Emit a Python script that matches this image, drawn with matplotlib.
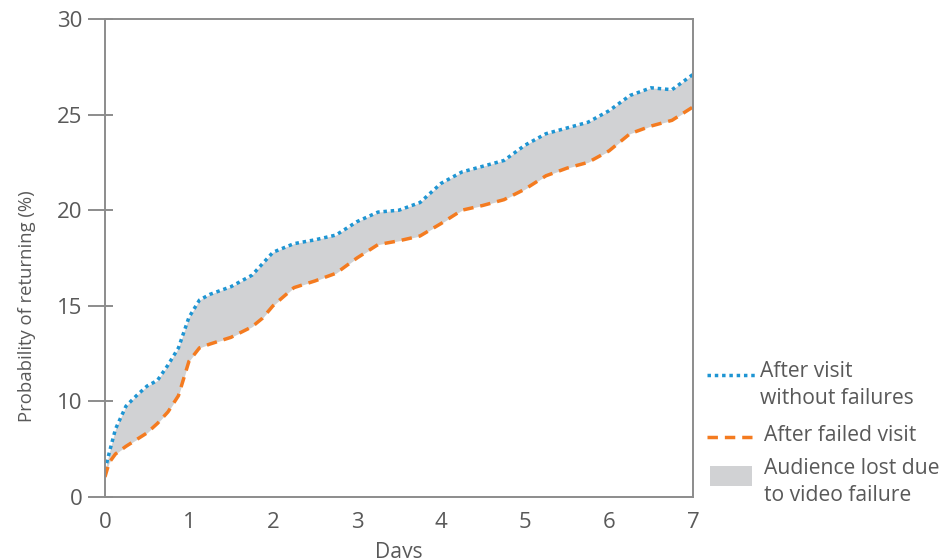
import numpy as np
import matplotlib.pyplot as plt
from matplotlib.lines import Line2D
from matplotlib.patches import Rectangle
from matplotlib.ticker import FixedLocator

# days since the visit (shared x for both curves)
days = [0, 0.05, 0.125, 0.25, 0.375, 0.5, 0.625, 0.75, 0.875, 1.0, 1.125, 1.25,
        1.5, 1.75, 1.875, 2.0, 2.25, 2.5, 2.75, 3.0, 3.25, 3.5, 3.75, 4.0,
        4.25, 4.5, 4.75, 5.0, 5.25, 5.5, 5.75, 6.0, 6.25, 6.5, 6.75, 7.0]

# probability of returning (%)
no_failure = [2.8, 4.6, 7.1, 9.5, 10.3, 10.8, 11.1, 11.9, 12.8, 14.4, 15.3, 15.6,
              16.0, 16.6, 17.2, 17.8, 18.25, 18.45, 18.7, 19.4, 19.9, 20.0, 20.4, 21.4,
              22.0, 22.3, 22.6, 23.4, 24.0, 24.3, 24.6, 25.2, 26.0, 26.4, 26.3, 27.1]
failed = [2.1, 3.6, 4.5, 5.3, 6.0, 6.7, 7.7, 8.9, 10.3, 12.1, 12.8, 13.0,
          13.35, 13.9, 14.35, 15.0, 15.95, 16.3, 16.7, 17.5, 18.2, 18.4, 18.65, 19.3,
          20.0, 20.25, 20.55, 21.1, 21.8, 22.2, 22.5, 23.1, 24.0, 24.4, 24.7, 25.4]

y_ticks = [0, 10, 15, 20, 25, 30]
x_ticks = [0, 1, 2, 3, 4, 5, 6, 7]
legend_labels = ['After visit\nwithout failures', 'After failed visit',
                 'Audience lost due\nto video failure']

BLUE = '#1e95d3'
ORANGE = '#f47b20'
FILL = '#d1d2d4'
TEXT = '#595959'
AXIS = '#8c8c8c'
FS = 15.2

plt.rcParams['font.family'] = ['Open Sans', 'DejaVu Sans']


# the y axis squeezes 0-10 into the same space as each 5-step above it
def fwd(y):
    y = np.asarray(y, float)
    return np.where(y <= 10, y / 10, 1 + (y - 10) / 5)


def inv(p):
    p = np.asarray(p, float)
    return np.where(p <= 1, p * 10, 10 + (p - 1) * 5)


fig = plt.figure(figsize=(9.43, 5.58), dpi=100)
ax = fig.add_axes([0.1113, 0.1093, 0.6236, 0.8567])
ax.set_yscale('function', functions=(fwd, inv))

ax.fill_between(days, failed, no_failure, color=FILL, lw=0)
ax.plot(days, no_failure, color=BLUE, lw=2.5, ls=(0, (1, 1.1)))
ax.plot(days, failed, color=ORANGE, lw=2.5, ls=(0, (3, 2)))

ax.set_xlim(0, 7)
ax.set_ylim(0, 30)
ax.set_xticks(x_ticks)
ax.set_yticks(y_ticks)
ax.yaxis.set_minor_locator(FixedLocator(y_ticks))
ax.yaxis.remove_overlapping_locs = False

ax.tick_params(axis='y', which='major', direction='out', length=12, width=1.4,
               color=AXIS, labelsize=16, labelcolor=TEXT, pad=4)
ax.tick_params(axis='y', which='minor', direction='in', length=5.5, width=1.4, color=AXIS)
ax.tick_params(axis='x', length=0, pad=11, labelsize=16, labelcolor=TEXT)
for s in ax.spines.values():
    s.set_color(AXIS)
    s.set_linewidth(1.4)

ax.set_xlabel('Days', fontsize=FS, color=TEXT, labelpad=6)
ax.set_ylabel('Probability of returning (%)', fontsize=13.3, color=TEXT)
ax.yaxis.set_label_coords(-0.118, 0.40)

# legend drawn by hand so the keys line up with the first text line
H = 558.0
W = 943.0
def fx(px):
    return px / W
def fy(py):
    return 1 - py / H

fig.add_artist(Line2D([fx(707), fx(758)], [fy(375), fy(375)], color=BLUE, lw=2.5,
                      ls=(0, (1, 1.1))))
fig.text(fx(760), fy(361), legend_labels[0], fontsize=FS, color=TEXT, va='top',
         linespacing=1.36)
fig.add_artist(Line2D([fx(707), fx(752)], [fy(437), fy(437)], color=ORANGE, lw=2.5,
                      ls=(0, (3, 2))))
fig.text(fx(764), fy(425), legend_labels[1], fontsize=FS, color=TEXT, va='top')
fig.add_artist(Rectangle((fx(710), fy(486)), fx(42), 20 / H, color=FILL, lw=0,
                         transform=fig.transFigure))
fig.text(fx(764), fy(458), legend_labels[2], fontsize=FS, color=TEXT, va='top',
         linespacing=1.36)

fig.savefig('out.png', dpi=100)
